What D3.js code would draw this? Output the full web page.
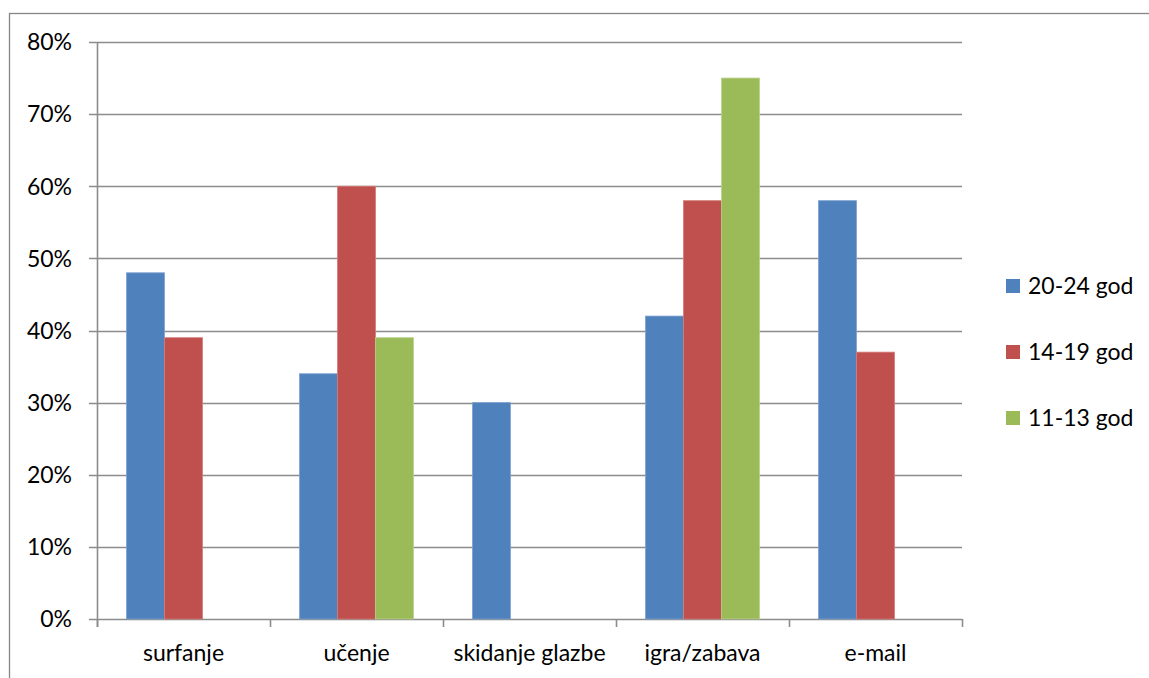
<!DOCTYPE html>
<html>
<head>
<meta charset="utf-8">
<script src="https://cdn.jsdelivr.net/npm/d3@7"></script>
<style>
  body { margin: 0; background: #fff; }
  text { font-family: Lato, "Open Sans", sans-serif; fill: #000; }
</style>
</head>
<body>
<div id="chart"></div>
<script>
// data
var categories = ["surfanje", "učenje", "skidanje glazbe", "igra/zabava", "e-mail"];
var seriesNames = ["20-24 god", "14-19 god", "11-13 god"];
var s2024 = [48, 34, 30, 42, 58];
var s1419 = [39, 60, null, 58, 37];
var s1113 = [null, 39, null, 75, null];
var yTicks = [0, 10, 20, 30, 40, 50, 60, 70, 80];
var colors = ["#4F81BD", "#C0504D", "#9BBB59"];
var edges = ["#7DA1CF", "#D47C79", "#B9D08A"];

var width = 1149, height = 678;
var plot = {left: 97, right: 962, top: 42, bottom: 619};
var fontSize = "23px";

var svg = d3.select("#chart").append("svg")
    .attr("width", width)
    .attr("height", height);

// outer chart frame (runs off right/bottom edge)
svg.append("rect")
    .attr("x", 9.5).attr("y", 13.5)
    .attr("width", 1200).attr("height", 700)
    .attr("fill", "none")
    .attr("stroke", "#868686")
    .attr("stroke-width", 1.3);

var x = d3.scaleBand()
    .domain(categories)
    .range([plot.left, plot.right]);

var y = d3.scaleLinear()
    .domain([0, 80])
    .range([plot.bottom, plot.top]);

// gridlines with tick overhang on the left
svg.append("g")
    .selectAll("line")
    .data(yTicks)
    .join("line")
    .attr("x1", plot.left - 8)
    .attr("x2", plot.right)
    .attr("y1", function(d) { return Math.round(y(d)) + 0.5; })
    .attr("y2", function(d) { return Math.round(y(d)) + 0.5; })
    .attr("stroke", "#8c8c8c")
    .attr("stroke-width", 1.6);

// y labels
svg.append("g")
    .selectAll("text")
    .data(yTicks)
    .join("text")
    .attr("x", 72)
    .attr("y", function(d) { return y(d); })
    .attr("dy", "0.36em")
    .attr("text-anchor", "end")
    .style("font-size", fontSize)
    .text(function(d) { return d + "%"; });

// bars
var series = [s2024, s1419, s1113];
var bw = 38;
series.forEach(function(vals, si) {
  svg.append("g")
    .selectAll("rect")
    .data(categories.map(function(c, i) { return {cat: c, v: vals[i]}; })
            .filter(function(d) { return d.v != null; }))
    .join("rect")
    .attr("x", function(d) { return x(d.cat) + x.bandwidth() / 2 - 1.5 * bw + si * bw; })
    .attr("y", function(d) { return y(d.v); })
    .attr("width", bw)
    .attr("height", function(d) { return plot.bottom - y(d.v); })
    .attr("fill", colors[si])
    .attr("stroke", edges[si])
    .attr("stroke-width", 0.8);
});

// axes lines
svg.append("line")
    .attr("x1", plot.left + 0.5).attr("x2", plot.left + 0.5)
    .attr("y1", plot.top).attr("y2", plot.bottom + 8)
    .attr("stroke", "#8c8c8c").attr("stroke-width", 1.6);

var xTicks = categories.map(function(c) { return x(c); }).concat([plot.right]);
svg.append("g")
    .selectAll("line")
    .data(xTicks)
    .join("line")
    .attr("x1", function(d) { return d + 0.5; })
    .attr("x2", function(d) { return d + 0.5; })
    .attr("y1", plot.bottom)
    .attr("y2", plot.bottom + 8)
    .attr("stroke", "#8c8c8c").attr("stroke-width", 1.6);

// x labels
svg.append("g")
    .selectAll("text")
    .data(categories)
    .join("text")
    .attr("x", function(d) { return x(d) + x.bandwidth() / 2; })
    .attr("y", 661)
    .attr("text-anchor", "middle")
    .style("font-size", fontSize)
    .text(function(d) { return d; });

// legend
var legend = svg.append("g")
    .selectAll("g")
    .data(seriesNames)
    .join("g")
    .attr("transform", function(d, i) { return "translate(1006," + (286 + i * 66) + ")"; });

legend.append("rect")
    .attr("x", 0).attr("y", -7)
    .attr("width", 14).attr("height", 14)
    .attr("fill", function(d, i) { return colors[i]; });

legend.append("text")
    .attr("x", 22)
    .attr("dy", "0.36em")
    .style("font-size", fontSize)
    .text(function(d) { return d; });
</script>
</body>
</html>
